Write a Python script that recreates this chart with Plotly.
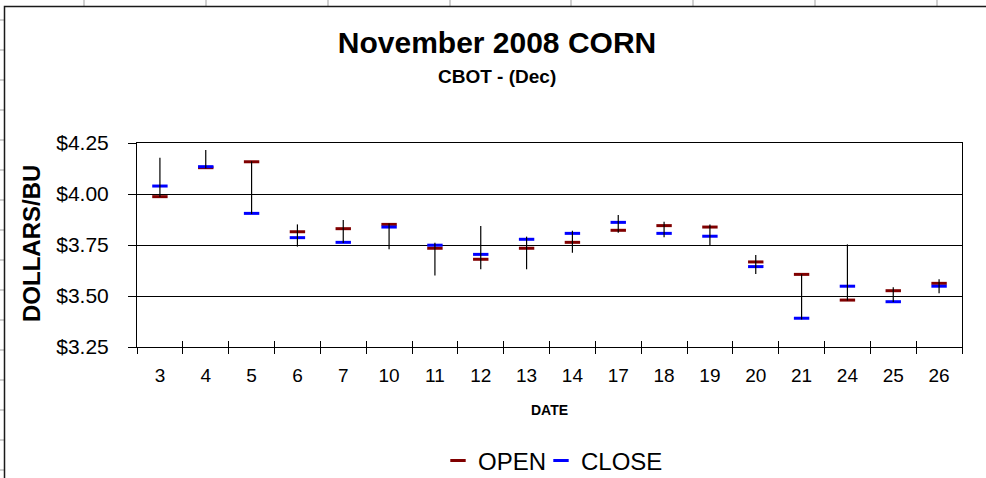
import plotly.graph_objects as go

# November 2008 CBOT corn (December contract), daily prices in $/bu
dates = ["3", "4", "5", "6", "7", "10", "11", "12", "13", "14",
         "17", "18", "19", "20", "21", "24", "25", "26"]
open_px = [3.987, 4.129, 4.158, 3.815, 3.830, 3.851, 3.734, 3.680, 3.734,
           3.763, 3.822, 3.845, 3.838, 3.667, 3.606, 3.480, 3.526, 3.562]
close_px = [4.039, 4.134, 3.905, 3.786, 3.763, 3.838, 3.749, 3.704, 3.778,
            3.807, 3.861, 3.807, 3.793, 3.644, 3.391, 3.548, 3.472, 3.548]
high_px = [4.178, 4.216, 4.160, 3.851, 3.873, 3.855, 3.761, 3.843, 3.791,
           3.820, 3.897, 3.864, 3.851, 3.701, 3.606, 3.753, 3.543, 3.582]
low_px = [3.985, 4.125, 3.902, 3.742, 3.760, 3.729, 3.600, 3.631, 3.631,
          3.712, 3.810, 3.788, 3.749, 3.608, 3.385, 3.478, 3.470, 3.513]
y_ticks = [3.25, 3.50, 3.75, 4.00, 4.25]

W, H = 986, 478
L, R, T, B = 137, 24, 143, 131
PW, PH = W - L - R, H - T - B


def px_x(px):
    return (px - L) / PW


def px_y(py):
    return (H - B - py) / PH


FONT = "Arial, Liberation Sans, sans-serif"
RED = "#800000"
BLUE = "#0000FF"

fig = go.Figure()

# high-low range as a vertical bar from the low up to the high
fig.add_trace(go.Scatter(
    x=dates, y=low_px, mode="markers",
    marker=dict(size=1, opacity=0),
    error_y=dict(type="data", symmetric=False,
                 array=[h - l for h, l in zip(high_px, low_px)],
                 arrayminus=[0] * len(low_px),
                 width=0, thickness=1.2, color="black"),
    showlegend=False, hoverinfo="skip", xaxis="x2",
))

fig.add_trace(go.Scatter(
    x=dates, y=open_px, mode="markers", name="OPEN", legend="legend",
    marker=dict(symbol="line-ew", size=11, line=dict(width=3, color=RED), color=RED),
))
fig.add_trace(go.Scatter(
    x=dates, y=close_px, mode="markers", name="CLOSE", legend="legend2",
    marker=dict(symbol="line-ew", size=11, line=dict(width=3, color=BLUE), color=BLUE),
))

# spreadsheet cell lines peeking around the chart frame
shapes = []
for cx in [84, 206, 328, 450, 571, 693, 815, 937]:
    shapes.append(dict(type="line", xref="paper", yref="paper",
                       x0=px_x(cx), x1=px_x(cx), y0=px_y(0), y1=px_y(6),
                       line=dict(color="#c0c0c0", width=1.5), layer="below"))
for ry in range(20, 478, 30):
    shapes.append(dict(type="line", xref="paper", yref="paper",
                       x0=px_x(0), x1=px_x(4), y0=px_y(ry), y1=px_y(ry),
                       line=dict(color="#c0c0c0", width=1.5), layer="below"))
# chart frame
shapes.append(dict(type="rect", xref="paper", yref="paper",
                   x0=px_x(4.5), x1=px_x(W + 10), y0=px_y(6.5), y1=px_y(H + 10),
                   line=dict(color="#1a1a1a", width=1.5), fillcolor="rgba(0,0,0,0)"))

annotations = [
    dict(text="<b>CBOT - (Dec)</b>", xref="paper", yref="paper",
         x=px_x(497), y=px_y(76), showarrow=False, xanchor="center", yanchor="middle",
         font=dict(family=FONT, size=19, color="black")),
    dict(text="<b>DATE</b>", xref="paper", yref="paper",
         x=px_x(549), y=px_y(410), showarrow=False, xanchor="center", yanchor="middle",
         font=dict(family=FONT, size=14, color="black")),
    dict(text="<b>DOLLARS/BU</b>", xref="paper", yref="paper", textangle=-90,
         x=px_x(31), y=px_y(244), showarrow=False, xanchor="center", yanchor="middle",
         font=dict(family=FONT, size=24, color="black")),
]

legend_style = dict(orientation="h", xref="container", yref="container",
                    y=1 - 461 / H, xanchor="left", yanchor="middle",
                    font=dict(family=FONT, size=24, color="black"),
                    bgcolor="rgba(0,0,0,0)", itemwidth=30)

fig.update_layout(
    width=W, height=H,
    margin=dict(l=L, r=R, t=T, b=B, pad=0, autoexpand=False),
    paper_bgcolor="white", plot_bgcolor="white",
    font=dict(family=FONT, color="black"),
    title=dict(text="<b>November 2008 CORN</b>", xref="container", yref="container",
               x=497 / W, y=1 - 42 / H, xanchor="center", yanchor="middle",
               font=dict(family=FONT, size=30, color="black")),
    showlegend=True,
    legend=dict(legend_style, x=438 / W),
    legend2=dict(legend_style, x=541 / W),
    xaxis=dict(type="category", categoryorder="array", categoryarray=dates,
               range=[-0.5, len(dates) - 0.5],
               showline=True, linecolor="black", linewidth=1, mirror=True,
               showgrid=False, zeroline=False,
               ticks="outside", ticklen=6, tickcolor="black", tickwidth=1,
               tickson="boundaries",
               tickfont=dict(family=FONT, size=19, color="black"),
               ticklabelstandoff=11),
    xaxis2=dict(type="category", categoryorder="array", categoryarray=dates,
                range=[-0.5, len(dates) - 0.5], overlaying="x", anchor="y",
                side="bottom", showline=False, showgrid=False, zeroline=False,
                ticks="inside", ticklen=6, tickcolor="black", tickwidth=1,
                tickson="boundaries", showticklabels=False),
    yaxis=dict(range=[3.25, 4.25], tickvals=y_ticks, tickformat="$.2f",
               showline=True, linecolor="black", linewidth=1, mirror=True,
               showgrid=True, gridcolor="black", gridwidth=1, zeroline=False,
               ticks="outside", ticklen=8, tickcolor="black", tickwidth=1,
               tickfont=dict(family=FONT, size=21, color="black"),
               ticklabelstandoff=15),
    shapes=shapes,
    annotations=annotations,
)

fig.write_html("out.html")
